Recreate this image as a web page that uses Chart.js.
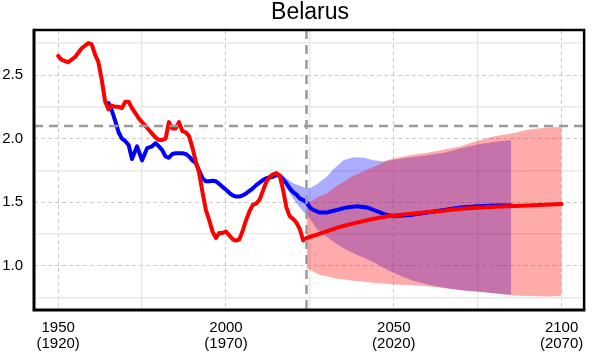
<!DOCTYPE html>
<html>
<head>
<meta charset="utf-8">
<script src="https://cdn.jsdelivr.net/npm/chart.js@4"></script>
<style>
  html, body { margin: 0; padding: 0; background: #fff; }
  canvas { display: block; }
</style>
</head>
<body>
<canvas id="chart" width="593" height="352"></canvas>
<script>
// period TFR (observed + median projection)
const periodYears = [1950, 1951, 1953, 1955, 1957, 1959, 1960, 1961, 1962, 1963, 1964, 1965, 1966, 1967, 1968, 1969,
  1970, 1971, 1972, 1973, 1974, 1975, 1976, 1977, 1978, 1979, 1980, 1981, 1982, 1983, 1984, 1985, 1986, 1987, 1988, 1989,
  1990, 1991, 1992, 1993, 1994, 1995, 1996, 1997, 1998, 1999, 2000, 2001, 2002, 2003, 2004, 2005, 2006, 2007, 2008, 2009,
  2010, 2011, 2012, 2013, 2014, 2015, 2016, 2017, 2018, 2019, 2020, 2021, 2022, 2023,
  2024, 2028, 2033, 2038, 2043, 2048, 2055, 2063, 2070, 2080, 2090, 2100];
const periodTfr = [2.65, 2.62, 2.60, 2.64, 2.71, 2.75, 2.74, 2.66, 2.60, 2.46, 2.29, 2.23, 2.26, 2.25, 2.25, 2.24,
  2.29, 2.29, 2.24, 2.20, 2.16, 2.13, 2.10, 2.07, 2.04, 2.01, 1.99, 1.99, 2.00, 2.13, 2.08, 2.08, 2.13, 2.06, 2.05, 2.02,
  1.93, 1.82, 1.73, 1.58, 1.44, 1.36, 1.27, 1.22, 1.26, 1.26, 1.27, 1.24, 1.21, 1.20, 1.21, 1.28, 1.36, 1.43, 1.48, 1.49,
  1.52, 1.59, 1.66, 1.70, 1.72, 1.73, 1.71, 1.60, 1.46, 1.39, 1.37, 1.34, 1.29, 1.20,
  1.22, 1.255, 1.30, 1.335, 1.365, 1.39, 1.41, 1.43, 1.45, 1.465, 1.475, 1.487];

// completed cohort TFR, plotted at cohort year + 30
const cohortYears = [1965, 1966, 1967, 1968, 1969, 1970, 1971, 1972, 1973.5, 1975, 1976.5, 1978, 1979, 1980, 1981, 1982,
  1983, 1984, 1985, 1987, 1988, 1989, 1990, 1991, 1992, 1993, 1994, 1995, 1996, 1997, 1998, 1999, 2000, 2001, 2002,
  2003, 2004, 2005, 2006, 2007, 2008, 2009, 2010, 2011, 2012, 2013, 2014, 2015, 2016, 2017, 2018, 2019, 2020, 2021,
  2022, 2023, 2024, 2025, 2026, 2028, 2030, 2033, 2036, 2039, 2042, 2045, 2048, 2050, 2055, 2060, 2065, 2070, 2075,
  2080, 2085];
const cohortTfr = [2.28, 2.22, 2.14, 2.05, 2.00, 1.98, 1.95, 1.84, 1.94, 1.83, 1.925, 1.94, 1.965, 1.94, 1.91, 1.86,
  1.85, 1.88, 1.885, 1.885, 1.88, 1.86, 1.83, 1.81, 1.75, 1.69, 1.665, 1.665, 1.67, 1.665, 1.645, 1.62, 1.60, 1.575, 1.555,
  1.545, 1.545, 1.555, 1.57, 1.59, 1.61, 1.635, 1.655, 1.675, 1.69, 1.695, 1.70, 1.715, 1.71, 1.68, 1.65, 1.61, 1.58, 1.56,
  1.53, 1.52, 1.50, 1.46, 1.44, 1.42, 1.42, 1.44, 1.46, 1.47, 1.46, 1.43, 1.40, 1.39, 1.40, 1.42, 1.44, 1.46, 1.47,
  1.475, 1.475];

// 95% interval, period TFR
const redBandYears = [2024, 2025, 2028, 2030, 2033, 2035, 2038, 2040, 2043, 2045, 2048, 2050, 2055, 2060, 2064, 2070,
  2074, 2080, 2085, 2090, 2095, 2100];
const redUpper = [1.49, 1.505, 1.55, 1.57, 1.63, 1.66, 1.71, 1.73, 1.77, 1.79, 1.83, 1.845, 1.87, 1.89, 1.91, 1.94,
  1.975, 2.02, 2.04, 2.07, 2.085, 2.094];
const redLower = [0.98, 0.97, 0.93, 0.92, 0.90, 0.895, 0.885, 0.88, 0.87, 0.865, 0.86, 0.855, 0.85, 0.84, 0.83, 0.81,
  0.80, 0.785, 0.77, 0.765, 0.76, 0.765];

// 95% interval, cohort TFR
const blueBandYears = [2016, 2018, 2020, 2022, 2024, 2025, 2027, 2030, 2032, 2035, 2038, 2041, 2044, 2047, 2050, 2055,
  2060, 2065, 2070, 2075, 2080, 2085];
const blueUpper = [1.73, 1.69, 1.65, 1.63, 1.61, 1.61, 1.64, 1.70, 1.76, 1.83, 1.855, 1.85, 1.83, 1.82, 1.835, 1.855,
  1.87, 1.89, 1.925, 1.955, 1.975, 1.99];
const blueLower = [1.69, 1.61, 1.53, 1.46, 1.40, 1.375, 1.29, 1.23, 1.19, 1.14, 1.10, 1.065, 1.03, 0.985, 0.945, 0.89,
  0.855, 0.83, 0.81, 0.80, 0.785, 0.775];

const xTicks = [1950, 1975, 2000, 2025, 2050, 2075, 2100];
const yTicks = [0.75, 1.0, 1.25, 1.5, 1.75, 2.0, 2.25, 2.5, 2.75];
const replacementLevel = 2.1;
const lastObservedYear = 2024;
const countryName = 'Belarus';

const pts = (xs, ys) => xs.map((x, i) => ({ x: x, y: ys[i] }));

const FONT = 'Liberation Sans, Arial, sans-serif';

const refLines = {
  id: 'refLines',
  afterDatasetsDraw(chart) {
    const { ctx, chartArea: a, scales } = chart;
    ctx.save();
    ctx.strokeStyle = '#9a9a9a';
    ctx.lineWidth = 2.5;
    ctx.setLineDash([9, 6]);
    const y = scales.y.getPixelForValue(replacementLevel);
    ctx.beginPath();
    ctx.moveTo(a.left, y);
    ctx.lineTo(a.right, y);
    ctx.stroke();
    const x = scales.x.getPixelForValue(lastObservedYear);
    ctx.beginPath();
    ctx.moveTo(x, a.top);
    ctx.lineTo(x, a.bottom);
    ctx.stroke();
    ctx.restore();
  },
  afterDraw(chart) {
    const { ctx, chartArea: a } = chart;
    ctx.save();
    ctx.strokeStyle = '#000';
    ctx.lineWidth = 2.5;
    ctx.beginPath();
    ctx.moveTo(a.left, a.top);
    ctx.lineTo(a.right, a.top);
    ctx.lineTo(a.right, a.bottom);
    ctx.stroke();
    ctx.lineWidth = 3;
    ctx.beginPath();
    ctx.moveTo(a.left, a.top - 1.25);
    ctx.lineTo(a.left, a.bottom);
    ctx.lineTo(a.right + 1.25, a.bottom);
    ctx.stroke();
    // title
    ctx.fillStyle = '#000';
    ctx.font = '23px ' + FONT;
    ctx.textAlign = 'center';
    ctx.textBaseline = 'alphabetic';
    ctx.fillText(countryName, (a.left + a.right) / 2 + 1, 18.5);
    ctx.restore();
  }
};

const isMajor = (v, step) => Math.abs(v / step - Math.round(v / step)) < 1e-6;

new Chart(document.getElementById('chart'), {
  type: 'line',
  data: {
    datasets: [
      {
        data: pts(periodYears, periodTfr),
        borderColor: '#ff0000',
        borderWidth: 4,
        fill: false
      },
      {
        data: pts(cohortYears, cohortTfr),
        borderColor: '#0000ff',
        borderWidth: 4,
        fill: false
      },
      {
        data: pts(redBandYears, redUpper),
        borderWidth: 0,
        borderColor: 'rgba(0,0,0,0)',
        backgroundColor: 'rgba(255,0,0,0.33)',
        fill: '+1'
      },
      {
        data: pts(redBandYears, redLower),
        borderWidth: 0,
        borderColor: 'rgba(0,0,0,0)',
        fill: false
      },
      {
        data: pts(blueBandYears, blueUpper),
        borderWidth: 0,
        borderColor: 'rgba(0,0,0,0)',
        backgroundColor: 'rgba(0,0,255,0.33)',
        fill: '+1'
      },
      {
        data: pts(blueBandYears, blueLower),
        borderWidth: 0,
        borderColor: 'rgba(0,0,0,0)',
        fill: false
      }
    ]
  },
  options: {
    responsive: false,
    animation: false,
    layout: { padding: { left: 0, right: 5, top: 30, bottom: 0 } },
    elements: {
      point: { radius: 0 },
      line: { tension: 0, borderJoinStyle: 'round', borderCapStyle: 'round' }
    },
    plugins: {
      legend: { display: false },
      tooltip: { enabled: false },
      title: { display: false }
    },
    scales: {
      x: {
        type: 'linear',
        min: 1942.8,
        max: 2106.7,
        afterBuildTicks: s => { s.ticks = xTicks.map(v => ({ value: v })); },
        afterFit: s => { s.height = 42; },
        grid: {
          drawTicks: false,
          color: c => isMajor(c.tick.value, 50) ? '#cccccc' : '#e8e8e8',
          lineWidth: c => isMajor(c.tick.value, 50) ? 1 : 1.5
        },
        border: {
          display: false,
          dash: c => (c.tick && isMajor(c.tick.value, 50)) ? [4, 3] : []
        },
        ticks: {
          autoSkip: false,
          maxRotation: 0,
          padding: 9.5,
          color: '#000',
          font: { family: FONT, size: 15, lineHeight: 1.1 },
          callback: v => isMajor(v, 50) ? [String(v), '(' + (v - 30) + ')'] : ''
        }
      },
      y: {
        min: 0.6544,
        max: 2.8535,
        afterBuildTicks: s => { s.ticks = yTicks.map(v => ({ value: v })); },
        afterFit: s => { s.width = 34; },
        grid: {
          drawTicks: false,
          color: c => isMajor(c.tick.value, 0.5) ? '#cccccc' : '#e8e8e8',
          lineWidth: c => isMajor(c.tick.value, 0.5) ? 1 : 1.5
        },
        border: {
          display: false,
          dash: c => (c.tick && isMajor(c.tick.value, 0.5)) ? [4, 3] : []
        },
        ticks: {
          autoSkip: false,
          padding: 11,
          color: '#000',
          font: { family: FONT, size: 15 },
          callback: v => isMajor(v, 0.5) ? v.toFixed(1) : ''
        }
      }
    }
  },
  plugins: [refLines]
});
</script>
</body>
</html>
